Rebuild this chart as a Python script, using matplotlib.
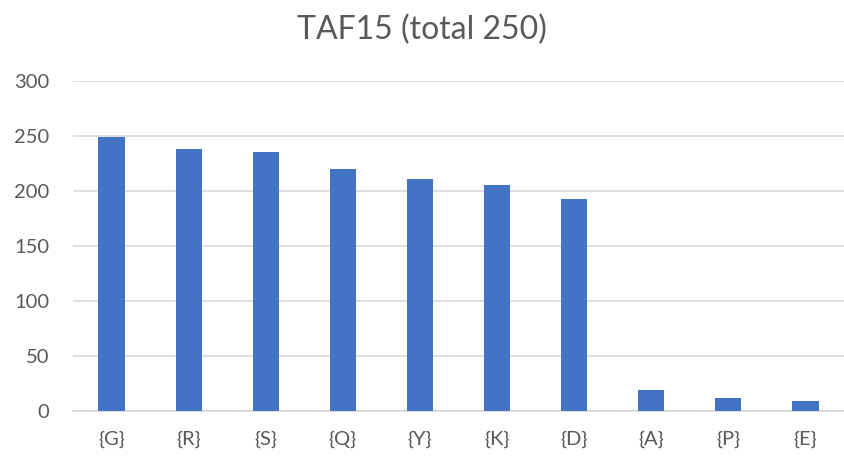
import matplotlib
matplotlib.use("Agg")
import matplotlib.pyplot as plt

categories = ["{G}", "{R}", "{S}", "{Q}", "{Y}", "{K}", "{D}", "{A}", "{P}", "{E}"]
values = [249, 238, 235, 220, 211, 205, 193, 19, 12, 9]
yticks = [0, 50, 100, 150, 200, 250, 300]
title = "TAF15 (total 250)"

plt.rcParams['font.family'] = ['Lato', 'DejaVu Sans']
fig = plt.figure(figsize=(8.44, 4.61), dpi=100)
ax = fig.add_axes([73/844, 50/461, (844-73)/844, 330/461])
x = range(len(categories))
ax.bar(x, values, width=0.34, color="#4472C4", zorder=3)
ax.set_xlim(-0.5, len(categories) - 0.5)
ax.set_ylim(0, 300)
ax.set_yticks(yticks)
ax.set_xticks(list(x))
ax.set_xticklabels(categories)
ax.grid(axis="y", color="#D9D9D9", linewidth=1.2, zorder=0)
for s in ["top", "right", "left"]:
    ax.spines[s].set_visible(False)
ax.spines["bottom"].set_color("#D9D9D9")
ax.spines["bottom"].set_linewidth(1.2)
ax.tick_params(axis="both", length=0, labelsize=14.5, labelcolor="#595959")
ax.tick_params(axis="x", pad=14)
ax.tick_params(axis="y", pad=17)
fig.text(0.5, 1 - 30/461, title, ha="center", va="center", fontsize=23, color="#595959")
fig.savefig("out.png", dpi=100)
